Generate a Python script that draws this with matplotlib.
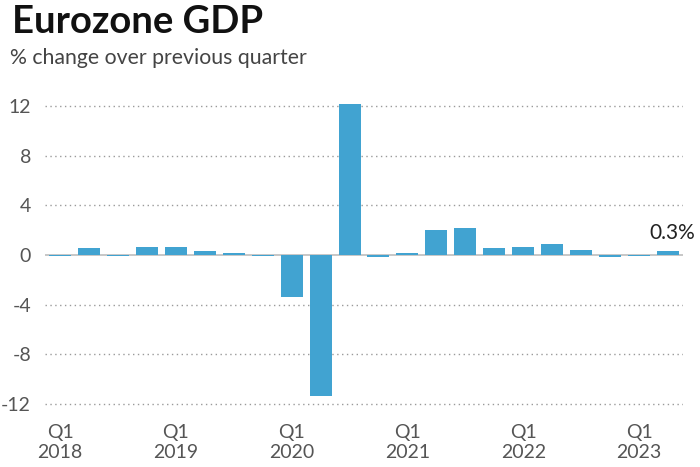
import matplotlib
matplotlib.use("Agg")
import matplotlib.pyplot as plt

quarters = ["Q1 2018", "Q2 2018", "Q3 2018", "Q4 2018",
            "Q1 2019", "Q2 2019", "Q3 2019", "Q4 2019",
            "Q1 2020", "Q2 2020", "Q3 2020", "Q4 2020",
            "Q1 2021", "Q2 2021", "Q3 2021", "Q4 2021",
            "Q1 2022", "Q2 2022", "Q3 2022", "Q4 2022",
            "Q1 2023", "Q2 2023"]
gdp_change = [-0.05, 0.6, -0.05, 0.65,
              0.65, 0.3, 0.2, -0.05,
              -3.4, -11.4, 12.2, -0.2,
              0.15, 2.0, 2.2, 0.55,
              0.65, 0.85, 0.4, -0.15,
              -0.05, 0.3]
y_ticks = [-12, -8, -4, 0, 4, 8, 12]
x_tick_labels = ["Q1\n2018", "Q1\n2019", "Q1\n2020", "Q1\n2021", "Q1\n2022", "Q1\n2023"]
last_label = "0.3%"

W, H = 700, 467
fig = plt.figure(figsize=(W / 100, H / 100), dpi=100)
font = "Lato"

# axes placement in pixels
x0, x1 = 45, 683
y_top, y_bot = 100, 410
ax = fig.add_axes([x0 / W, (H - y_bot) / H, (x1 - x0) / W, (y_bot - y_top) / H])

xs = list(range(len(quarters)))
ax.bar(xs, gdp_change, width=0.76, color="#41a3d1", zorder=3)

ax.set_xlim(-0.52, len(quarters) - 1 + 0.52)
ax.set_ylim(-12.5, 12.5)

for v in y_ticks:
    if v == 0:
        ax.axhline(0, color="#bdbdbd", lw=1.2, zorder=2)
    else:
        ax.axhline(v, color="#9a9a9a", lw=1.0, ls=(0, (1, 2.5)), zorder=1)

ax.set_yticks(y_ticks)
ax.set_yticklabels([str(v) for v in y_ticks], fontsize=14, color="#555555", family=font)
ax.tick_params(axis="y", length=0, pad=10)

q1_pos = [i for i, q in enumerate(quarters) if q.startswith("Q1")]
ax.set_xticks(q1_pos)
ax.set_xticklabels(x_tick_labels, fontsize=14, color="#555555", family=font, linespacing=1.25)
ax.tick_params(axis="x", length=0, pad=10)

for s in ax.spines.values():
    s.set_visible(False)

ax.text(xs[-1] + 0.15, gdp_change[-1] + 0.65, last_label, ha="center", va="bottom",
        fontsize=15, color="#222222", family=font)

fig.text(12 / W, 1 - 5 / H, "Eurozone GDP", fontsize=27.5, fontweight="bold",
         family=font, color="#111111", ha="left", va="top")
fig.text(10 / W, 1 - 48 / H, "% change over previous quarter", fontsize=15.3,
         family=font, color="#444444", ha="left", va="top")

fig.savefig("out.png", dpi=100)
